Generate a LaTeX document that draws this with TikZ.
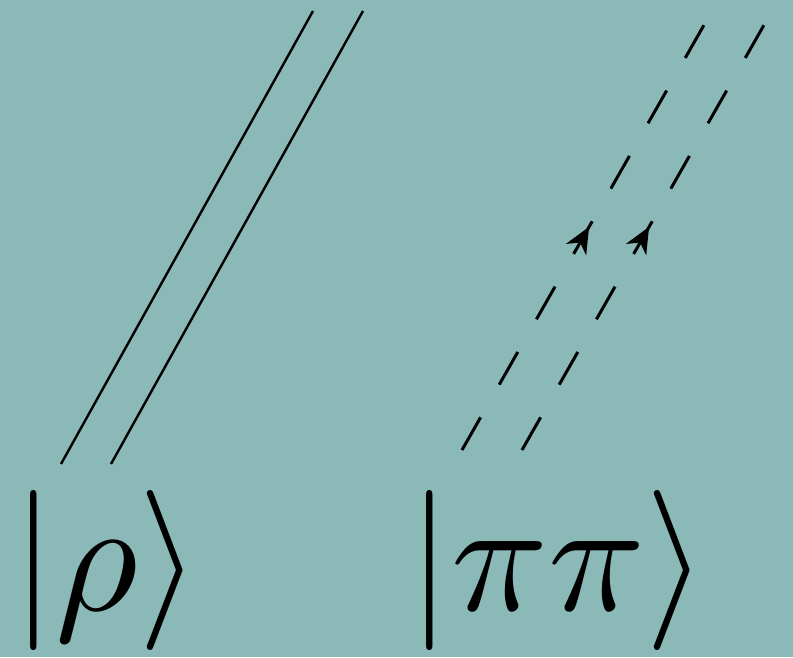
\documentclass[tikz,border=0pt]{standalone}
\usetikzlibrary{arrows.meta,decorations.markings}
\definecolor{bgteal}{RGB}{139,185,184}
\tikzset{
  solidline/.style={line width=2.4pt, black},
  dashline/.style={line width=3pt, black, dash pattern=on 37.6pt off 37.6pt,
    postaction={decorate, decoration={markings,
      mark=at position 0.525 with {\arrow{Stealth[length=26pt,width=23pt,inset=8pt]}}}}},
  ket/.style={inner sep=0pt, anchor=base west, scale=16}
}
\begin{document}
\begin{tikzpicture}[x=1pt,y=-1pt]
\fill[bgteal] (0,0) rectangle (793,657);
\useasboundingbox (0,0) rectangle (793,657);
% solid double line
\coordinate (s1b) at (61,464);
\coordinate (s1t) at (313,11);
\coordinate (s2b) at (111,464);
\coordinate (s2t) at (363,11);
\draw[solidline] (s1b) -- (s1t);
\draw[solidline] (s2b) -- (s2t);
% dashed double line with arrows
\coordinate (d1b) at (462,450);
\coordinate (d1t) at (704,25);
\coordinate (d2b) at (522,450);
\coordinate (d2t) at (764,25);
\draw[dashline] (d1b) -- (d1t);
\draw[dashline] (d2b) -- (d2t);
% kets
\node[ket] (rho) at (8,610) {$|\rho\rangle$};
\node[ket] (pipi) at (404,610) {$|\pi\pi\rangle$};
\end{tikzpicture}
\end{document}
